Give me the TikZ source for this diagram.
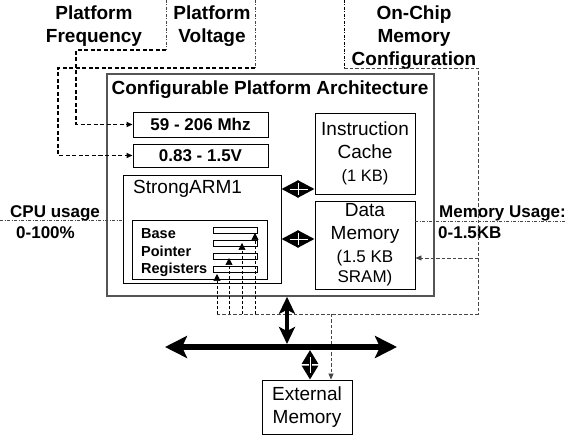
\documentclass[tikz,border=0pt]{standalone}
\usepackage{fontspec}
\setmainfont{Liberation Sans}
\usetikzlibrary{arrows.meta}
\definecolor{frame}{RGB}{85,85,85}
\definecolor{cfgline}{RGB}{70,70,70}
\begin{document}
\begin{tikzpicture}[x=1pt,y=-1pt,
  box/.style={draw=black, line width=0.9pt, inner sep=0pt, align=center},
  bigfont/.style={font=\fontsize{19}{23}\selectfont\bfseries},
  midfont/.style={font=\fontsize{17}{20}\selectfont\bfseries},
  regfont/.style={font=\fontsize{19}{23}\selectfont},
  thickdash/.style={line width=1.5pt, dash pattern=on 4pt off 2.5pt},
  thindashdot/.style={line width=0.7pt, draw=cfgline, dash pattern=on 3pt off 1.5pt on 1pt off 1.5pt},
  cfgdash/.style={line width=0.8pt, draw=cfgline, dash pattern=on 3.5pt off 2pt},
  smalltip/.style={-{Triangle[length=6pt,width=5pt]}},
  fat/.style={line width=3pt, {Triangle[length=17pt,width=17pt]}-{Triangle[length=17pt,width=17pt]}},
  whiteline/.style={draw=white, line width=0.8pt}
]
\useasboundingbox (0,0) rectangle (566,435);

% outer platform box
\node[draw=frame, line width=1.6pt, minimum width=327pt, minimum height=222pt, inner sep=0pt] (cpa) at (270.5,185) {};
\node[bigfont] (title) at (270,90) {Configurable Platform Architecture};

% frequency / voltage boxes
\node[box, midfont, minimum width=135pt, minimum height=25pt] (freq) at (200.5,124.5) {59 - 206 Mhz};
\node[box, midfont, minimum width=135pt, minimum height=23pt] (volt) at (200.5,155.5) {0.83 - 1.5V};

% StrongARM box
\node[box, minimum width=158pt, minimum height=108pt] (sarm) at (202,229) {};
\node[regfont, anchor=west, inner sep=0pt] (sarmlbl) at (133,189) {StrongARM1};
\node[box, minimum width=135pt, minimum height=59pt] (regbox) at (199.5,249.5) {};
\node[font=\fontsize{14.5}{17.5}\selectfont\bfseries, align=left, anchor=west, inner sep=0pt] (reglbl) at (141,253) {Base\\Pointer\\Registers};
\foreach \i/\y in {1/230,2/243,3/256,4/269.5}{
  \node[draw=black, line width=0.8pt, fill=white, minimum width=44pt, minimum height=6pt, inner sep=0pt] (bar\i) at (235,\y) {};
}

% cache and memory boxes
\node[box, regfont, minimum width=100pt, minimum height=81pt] (icache) at (365,153.5) {Instruction\\Cache\\{\fontsize{16.5}{20}\selectfont (1 KB)}};
\node[box, regfont, minimum width=100pt, minimum height=88pt] (dmem) at (365,245) {Data\\Memory\\{\fontsize{17}{20}\selectfont (1.5 KB}\\[-3pt]{\fontsize{17}{20}\selectfont SRAM)}};
\node[box, regfont, minimum width=90pt, minimum height=54pt] (ext) at (307,407) {External\\Memory};

% labels
\node[bigfont, align=center] (pf) at (94,26.5) {Platform\\Frequency};
\node[bigfont, align=center] (pv) at (212,26.5) {Platform\\Voltage};
\node[bigfont, align=center] (oc) at (414,38) {On-Chip\\Memory\\Configuration};
\node[midfont, anchor=west, inner sep=0pt] (cpu1) at (10,213) {CPU usage};
\node[midfont, anchor=west, inner sep=0pt] (cpu2) at (16,233) {0-100\%};
\node[midfont, anchor=west, inner sep=0pt] (mu1) at (439,213) {Memory Usage:};
\node[midfont, anchor=west, inner sep=0pt] (mu2) at (438,233) {0-1.5KB};

% frequency line
\coordinate (f0) at (166,0);
\coordinate (f1) at (166,50);
\coordinate (f2) at (76,50);
\draw[thindashdot] (f0) -- (f1);
\draw[thickdash, smalltip] (f1) -- (f2) |- (freq.west);
% voltage line
\coordinate (v0) at (255,0);
\coordinate (v1) at (255,68);
\coordinate (v2) at (58,68);
\draw[thindashdot] (v0) -- (v1);
\draw[thickdash, smalltip] (v1) -- (v2) |- (volt.west);

% memory configuration line
\coordinate (m0) at (344,0);
\coordinate (m1) at (344,68);
\coordinate (m2) at (478,68);
\coordinate (m3) at (478,314);
\coordinate (r4) at (217,314);
\coordinate (r3) at (229,314);
\coordinate (r2) at (242,314);
\coordinate (r1) at (255,314);
\coordinate (eb) at (331,314);
\coordinate (dmb) at (478,258);
\draw[line width=0.9pt, dash pattern=on 3pt off 1.5pt on 1pt off 1.5pt] (m0) -- (m1);
\draw[cfgdash] (m1) -- (m2) -- (m3) -- (r4);
\draw[cfgdash, smalltip] (dmb) -- (dmb -| dmem.east);
\draw[cfgdash, smalltip] (eb) -- (eb |- ext.north);
\tikzset{regtip/.style={line width=0.7pt, dash pattern=on 3pt off 2pt, -{Triangle[length=7pt,width=7pt]}}}
\draw[regtip] (r1) -- (255,233);
\draw[regtip] (r2) -- (242,243);
\draw[regtip] (r3) -- (229,258);
\draw[regtip] (r4) -- (217,274);

% usage lines
\coordinate (cpuL) at (0,220);
\coordinate (muR) at (566,221);
\draw[thindashdot] (cpuL) -- (cpuL -| sarm.west);
\draw[thindashdot] (muR -| dmem.east) -- (muR);

% fat double arrows
\coordinate (a1) at (0,189);
\coordinate (a2) at (0,239);
\draw[fat] (a1 -| sarm.east) -- (a1 -| icache.west);
\draw[fat] (a2 -| sarm.east) -- (a2 -| dmem.west);
\coordinate (a1m) at (298.5,189);
\coordinate (a2m) at (298.5,239);
\draw[whiteline] ([xshift=-9pt]a1m) -- ([xshift=9pt]a1m);
\draw[whiteline] ([yshift=-6pt]a1m) -- ([yshift=6pt]a1m);
\draw[whiteline] ([xshift=-9pt]a2m) -- ([xshift=9pt]a2m);
\draw[whiteline] ([yshift=-6pt]a2m) -- ([yshift=6pt]a2m);

% bus
\coordinate (busL) at (165,347);
\coordinate (busR) at (397,347);
\coordinate (busA) at (287,344);
\coordinate (busB) at (310,350);
\draw[line width=4pt, {Stealth[length=17pt,width=16pt,inset=4pt]}-{Stealth[length=17pt,width=16pt,inset=4pt]}] (cpa.south -| busA) -- (busA);
\draw[line width=6pt, {Stealth[length=22pt,width=22pt,inset=5pt]}-{Stealth[length=22pt,width=22pt,inset=5pt]}] (busL) -- (busR);
\draw[line width=3pt, {Triangle[length=14pt,width=16pt]}-{Triangle[length=14pt,width=16pt]}] (busB) -- (ext.north -| busB);
\draw[whiteline] (310,357) -- (310,373);
\end{tikzpicture}
\end{document}
